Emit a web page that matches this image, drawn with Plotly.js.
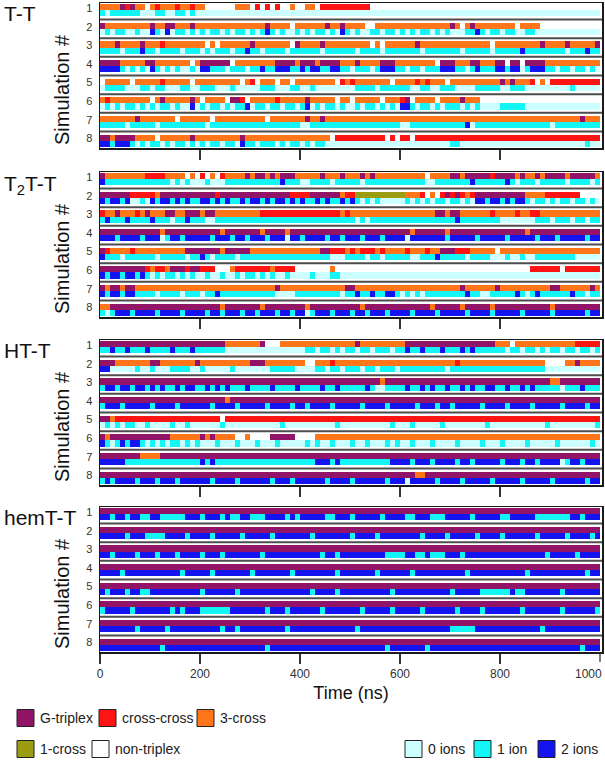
<!DOCTYPE html>
<html><head><meta charset="utf-8">
<script src="https://cdn.plot.ly/plotly-3.0.1.min.js"></script>
<style>html,body{margin:0;padding:0;background:#fff}#chart{width:605px;height:761px}</style>
</head><body><div id="chart"></div>
<script>
// ---------------- DATA ----------------
const panelNames = ["T-T", "T<sub>2</sub>T-T", "HT-T", "hemT-T"];
const simLabels = ["1","2","3","4","5","6","7","8"];
const timeTicks = [0, 200, 400, 600, 800, 1000];
const binWidthNs = 10;
// conformation codes: P=G-triplex R=cross-cross O=3-cross Y=1-cross W=non-triplex
const confLabels = ["G-triplex", "cross-cross", "3-cross", "1-cross", "non-triplex"];
const confCodes = ["P", "R", "O", "Y", "W"];
// ion codes: 0 / 1 / 2 ions
const ionLabels = ["0 ions", "1 ion", "2 ions"];
const ionCodes = ["0", "1", "2"];

const TT_conf = [
"OOOOPRPOOW OROOOROORO OWWWWWWOOO WRWRWRWWOW WOOWRRRRRR RRRRWWWWWW WWWWWWWWWW WWWWWWWWWW WWWWWWWWWW WWWWWWWWWW",
"POOOOOOOOO POOPPOOOPO OOOOOOOOOO OOOPOOOOWO OOOOOPOOPO OOOWWOOOOO OOOOOOOOOO POWOPOOOOO OOOWOOOOWW WWWWWWWWWW",
"OOOPOOOOPO OOROOOOOOO OWOWOOOOOO POOOOOOOWP OOOOPOOOOO OOOOWOWOOO OOOPOOOOOO OOOOOOOOWO OOOOOOOOPO OOOPOOOOOP",
"PPPPOOOOOP POOOOOOOWO PPPPPPWOOO OOOOOPPPPO PPPOPPPPOO OPOOOOPPPO OOOOOOOWPP POOOPPOOOP PWPPWPPPPO OOOOOOOOOO",
"WOOOOOWOOO OOROOOOOWO OOOOOOOOWO RWOOOWOOWO OOOOOOOWRO ROOOOOOOWO OOOROROOOW OOOOOOOOOO POPOOORWOW RRRRRRRRRR",
"OROOOOOOOO WOPOOOOOPO WOOOOWPPRW OOOOOROOOO OPOOOOOWOO WOOOOOWOOO RPWOOOOWOO OOPOOOWWWW WWWWWWWWWW WWWWWWWWWW",
"OOOOOOOPOO OOOOOWOOOO OOWOOOOOOO OOOWOOOOOO OPOOPOOOOO OOOOOOOOOO OOOOOOOOOO OOOOOOOOOO OOOOOOOOOO OOOOOOPOOO",
"PPOPPPPOOO OWOOOOOOPO OOOOOOOOPO OOOOOOOOOO OOOOOOWRRR RRRRRRRWRW RRWRRRRRRR RRRRRRRRRR RRRRRRRRRR RRRRRRRRRR"
];
const TT_ions = [
"1011111100 0110011010 0000000000 0000000000 0000000000 0000000000 0000000000 0000000000 0000000000 0000000000",
"0101100100 2102011010 1011010110 1012101001 0101101021 0100110110 1010110101 0001121011 0110011000 0000000000",
"1111011121 1011110111 0101110112 1101111011 1111011111 1011110111 1111011111 1101111101 1111211111 1110111211",
"2222101010 2101010010 2211101110 1121122211 2122112211 0111012221 1011011122 2110121112 2122012221 1011011010",
"0111100011 0110001100 1110001000 0011100011 0010000000 0111101111 1100110011 1000011111 0011100000 0000100000",
"0101011010 1011010020 1011010112 0110110110 1201011010 0101101010 2210110101 1101010000 1111100000 0000000000",
"1111101111 1011111111 1011111111 1111111111 0011111111 1111111111 0011111111 1112011111 1111111111 0111111111",
"2212221010 1101011010 1011011021 1011101011 0101100000 0000000000 0000000000 1100000000 0000000000 0000000100"
];

const T2TT_conf = [
"POOOOOOOOR RRROOOOWOW RWOWROOOOP OPPOPOPPPO OOOOPOOOPO OOPOPOOOOO OOOOOWOOOO PPOPPPPPRP PPPOPOOPOP PPPOPPPPPO",
"PPPPPPRRRR ROPPPPPPPP PPPRPPPPPP PPPPPPPPRR RRPPPPPPOR RYYYYYYYYY YOOORWOWRP RPRORPPPPP PPPPPOOOOR RRRRRRWWWW",
"ROOPOOOROP OOOPPOOPPP OPPOOOOOOO OORRRRRRRR RRRRRRRROR OOOOOOOOOO OOOOOOOPPO PPOOOOOORO OOOROORROO OOOOOOOOOO",
"PPPPPPPPPP PPOPPPPPPP PPPPOPPPPP PPOPPPPOPP PPPPPPPPPP PPPPPPPPPP PPOPPPPPPO PPPPPPPPPP PPPPPOPPPP PPPPPPPPPP",
"PROOOOROOO OOOOOOOPPP PPPPOPPPPP OOOOOOOOOO OOOOPPRRRO RORRRORO OO OROOOROOPP PRRROOOOOW OOOOOOOOOO OOOOOOOOOO",
"PPPPPPPPPR ORROPPPRPP RRRWWWORRR RRRRORRRRW WWWWWWOWWW WWWWWWWWWW WWWWWWWWWW WWWWWWWWWW WWWWWWRRRR RRWRRRRRRR",
"POPPOPPOOO OOOOOOOOOO OOOOOOOOOO OOOOOPOOOO OOOOOOOOOP POOOOOOOOO OOOOOOOOOO OOPOOOOOOP OOOOOOOOOO PPOOOOOOPO",
"OOPPPPPPPP PPPPPPPPPP PPPPOPPPPP PPOPPPPPPP POPPPPPPPP PPOPPPPPPP PPPPPPOPPP PPOPPPPPOP PPPPPPPPPP OPPPPPPPPP"
];
const T2TT_ions = [
"2111111111 1111010100 0100011111 1111112111 0011110111 1101111111 1111100111 1111211111 1210111011 1110111101",
"2122120010 2122121211 2212121121 2212122121 2112121121 2101010000 0101010110 1101022122 1212210110 1011011010",
"1211121111 2111011211 1001111111 1111111111 1111111111 1010111111 1111111111 1211111111 0000000111 0111011011",
"2221222212 2201221222 2212221221 2221222022 1222212212 2212221222 2022222221 2222212222 2122222122 2122222122",
"2111011111 1011111011 2101111011 1111111111 1111110001 1110110111 1100111211 1110111100 0100100111 1111100000",
"2122122121 0101101010 0100100101 1010100100 0010001100 0000000000 0000000000 0000000000 0000000000 0000000000",
"2122122111 1011110111 0112111111 1111100001 1111111101 1211211221 0101011111 1112110011 1112101211 1111211011",
"1012221222 2122221222 2122122212 2122212212 2012221222 1221222122 2212222122 2221222212 2222122222 1222222122"
];

const HTT_conf = [
"PPPPPPPPPP PPPPPPPPPP PPPPPOOOOO OOPWWWOOOO OOOOOOOOOO OPOOOOOOOO OPPPPPPPPP PPPPPPPPPO OOWOOOOOOO OOOOORRRRR",
"PPPOOOOOOO PPOOOOOOOP OOOOOOOOOO PPPOOOOOOO OWWOOOROOO OOOOOOOOOO OOOOOOOOOO OROOOOOOOO OOOOOOOOOW WWWOOPOOOO",
"PPPPPPPPPP PPPPPPPPPP PPPPPPPPPP PPPPPPPPPP PPPPPPPPPP PPPPPPOPPP PPPPPPPPPP PPPPPPPPPP PPPPPPPPPP OOPPPPPPPP",
"PPPPPPPPPP PPPPPPPPPP PPPPPOPPPP PPPPPPPPPP PPPPPPPPPP PPPPPPPPPP PPPPPPPPPP PPPPPPPPPP PPPPPPPPPP PPPPPPPPPP",
"PPORRRRRRR RRRRRRRRRR RRRRWRRRRR RRRRRRRRRR RRRRRRRRRR RRRRRRRRRR RRRRRRRRRR RRRRRRRRRR RRRRRRRRRR RRRRRRRRRR",
"POPPPPPPPP PPPPOOOOOO POPOOOOWWO WWWWPPPPPW WWWOOOOOOO OOOOOOOOOO OOOOOOOOOO OOOOOOOOOO OOOOOOOOOO OOOOOOOOOO",
"PPPPPPPPOO OOPPPPPPPP PPPPPPPPPP PPPPPPPPPP PPPPPPPPPP PPPPPPPPPP PPPPPPPPPP PPPPPPPPPP PPPPPPPPPP PPPPPPPPPP",
"PPPPPPPPPP PPPPPPPPPP PPPPPPPPPP PPPPPPPPPP PPPPPPPPPP PPPPPPPPPP PPPOOPPPPP PPPPPPPPPP PPPPPPPPPP PPPPPPPPPP"
];
const HTT_ions = [
"1121121112 1111211121 1111100000 0000000000 0110110101 1011011101 1211211121 1121211111 1011011010 1101101101",
"2200000100 1000111100 1000001000 0000111110 0001101101 1101101110 1111111110 1111111111 1111111110 0000000000",
"1221221221 2121121221 1212121112 1111211112 1111211211 1112100111 1211212112 1121211221 1211212111 1101112111",
"1222122222 1222212222 2212222122 2221222212 2122221222 2212222122 2221222122 1222221222 2122221222 2212222122",
"0101011001 0000100100 0000100000 0000001000 0000000100 0000000010 0010000010 0000000100 0000000001 0000000001",
"2101212210 1010110101 0001000100 0100010000 0101001000 1001000101 0010001000 0100001000 1000010000 0100000010",
"2222211111 1111111111 2121111111 1111111111 1112221211 1111111122 2212221222 2122122222 1222122122 2201221222",
"1212222122 2122212222 2212222122 2222122212 2222212222 1222222122 2022222122 2212222212 2222122222 1222222122"
];

const hemTT_conf = [
"PPPPPPPPPP PPPPPPPPPP PPPPPPPPPP PPPPPPPPPP PPPPPPPPPP PPPPPPPPPP PPPPPPPPPP PPPPPPPPPP PPPPPPPPPP PPPPPPPPPP",
"PPPPPPPPPP PPPPPPPPPP PPPPPPPPPP PPPPPPPPPP PPPPPPPPPP PPPPPPPPPP PPPPPPPPPP PPPPPPPPPP PPPPPPPPPP PPPPPPPPPP",
"PPPPPPPPPP PPPPPPPPPP PPPPPPPPPP PPPPPPPPPP PPPPPPPPPP PPPPPPPPPP PPPPPPPPPP PPPPPPPPPP PPPPPPPPPP PPPPPPPPPP",
"PPPPPPPPPP PPPPPPPPPP PPPPPPPPPP PPPPPPPPPP PPPPPPPPPP PPPPPPPPPP PPPPPPPPPP PPPPPPPPPP PPPPPPPPPP PPPPPPPPPP",
"PPPPPPPPPP PPPPPPPPPP PPPPPPPPPP PPPPPPPPPP PPPPPPPPPP PPPPPPPPPP PPPPPPPPPP PPPPPPPPPP PPPPPPPPPP PPPPPPPPPP",
"PPPPPPPPPP PPPPPPPPPP PPPPPPPPPP PPPPPPPPPP PPPPPPPPPP PPPPPPPPPP PPPPPPPPPP PPPPPPPPPP PPPPPPPPPP PPPPPPPPPP",
"PPPPPPPPPP PPPPPPPPPP PPPPPPPPPP PPPPPPPPPP PPPPPPPPPP PPPPPPPPPP PPPPPPPPPP PPPPPPPPPP PPPPPPPPPP PPPPPPPPPP",
"PPPPPPPPPP PPPPPPPPPP PPPPPPPPPP PPPPPPPPPP PPPPPPPPPP PPPPPPPPPP PPPPPPPPPP PPPPPPPPPP PPPPPPPPPP PPPPPPPPPP"
];
const hemTT_ions = [
"2212212211 2211111222 1222121122 1112222121 2222211222 1222221222 2112221112 2222122222 1122222111 1111221222",
"2222212221 1112222122 2212222212 2222122222 2212222222 1222212222 2222122221 2222212222 1222222122 2221222212",
"2212222122 2122212222 1222122222 2212222222 2222122122 2222222111 1221121112 2212222222 2222222221 2222212222",
"2222122222 2222221222 2212222222 1222222212 2222222122 2222212222 2212222222 2221222222 2222212222 2222222122",
"2122212211 2222222222 1222222122 2222222222 2212222122 2222222212 2222222222 1222221111 1121122222 2212222222",
"1222221222 2222121222 1111112222 2221222122 2222122222 2212222212 2222122222 2122221222 2222122222 2212222221",
"2222222122 2221222222 2222122122 2222222122 2222222222 2122222222 2222222222 1111122222 2222222212 2222222222",
"2222222222 2212222222 2222222222 2221222222 2222222222 2222222122 2222212222 2222222222 2222222222 2222221222"
];

// ---------------- STYLE / LAYOUT ----------------
const confColors = ["#921466", "#FF1414", "#FF7519", "#9C9C12", "#FFFFFF"];
const ionColors = ["#CCFFFF", "#14F5F5", "#1414F0"];
const FONT = "Liberation Sans, Arial, Helvetica, sans-serif";
const W = 605, H = 761;
const plotLeft = 100, plotRight = 602;
const panelTops = [3, 172, 340, 507];
const panelH = 145, stripH = 6.2, edgePad = 1;
const nSim = simLabels.length;
const pitch = (panelH - 2 * edgePad - 2 * stripH) / (nSim - 1);
const xRange = [0, 1004];
const tickLen = 10;

const panels = [
  {name: panelNames[0], conf: TT_conf, ions: TT_ions},
  {name: panelNames[1], conf: T2TT_conf, ions: T2TT_ions},
  {name: panelNames[2], conf: HTT_conf, ions: HTT_ions},
  {name: panelNames[3], conf: hemTT_conf, ions: hemTT_ions}
];

function cells(str, codes, offset) {
  return str.replace(/\s+/g, "").split("").map(c => {
    const i = codes.indexOf(c);
    return i < 0 ? null : i + offset;
  });
}

const allColors = confColors.concat(ionColors);
const nCol = allColors.length;
const colorscale = [];
allColors.forEach((c, i) => { colorscale.push([i / nCol, c]); colorscale.push([(i + 1) / nCol, c]); });

const simTop = k => edgePad + k * pitch;
const yEdges = [];
for (let k = 0; k < nSim; k++) { const t = simTop(k); yEdges.push(t, t + stripH, t + 2 * stripH); }

const traces = [];
const shapes = [];
const annotations = [];
const layout = {
  width: W, height: H,
  margin: {l: 0, r: 0, t: 0, b: 0},
  paper_bgcolor: "#fff", plot_bgcolor: "#fff",
  showlegend: false,
  font: {family: FONT, color: "#111"}
};

const lastTick = timeTicks[timeTicks.length - 1];
panels.forEach((p, i) => {
  const sfx = i === 0 ? "" : String(i + 1);
  const z = [];
  let nBins = 0;
  for (let k = 0; k < nSim; k++) {
    const cr = cells(p.conf[k], confCodes, 0);
    const ir = cells(p.ions[k], ionCodes, confCodes.length);
    nBins = Math.max(nBins, cr.length, ir.length);
    z.push(cr, ir);
    if (k < nSim - 1) z.push([]);
  }
  const zz = z.map(r => { const a = r.slice(); while (a.length < nBins) a.push(null); return a; });
  const xEdges = [];
  for (let b = 0; b <= nBins; b++) xEdges.push(b * binWidthNs);
  traces.push({
    type: "heatmap", x: xEdges, y: yEdges, z: zz,
    zmin: -0.5, zmax: nCol - 0.5, colorscale: colorscale, showscale: false,
    hoverinfo: "skip", xaxis: "x" + sfx, yaxis: "y" + sfx
  });
  const top = panelTops[i];
  const last = i === panels.length - 1;
  const shown = last ? timeTicks.slice(0, -1) : timeTicks.slice(1, -1);
  const xa = {
    domain: [plotLeft / W, plotRight / W], anchor: "y" + sfx, range: xRange,
    showline: true, mirror: true, linecolor: "#1a1a1a", linewidth: 1.5,
    ticks: "outside", ticklen: tickLen, tickwidth: 1.3, tickcolor: "#333",
    tickmode: "array", tickvals: shown, ticktext: shown.map(String),
    showticklabels: last,
    tickfont: {size: 12, color: "#333", family: FONT},
    showgrid: false, zeroline: false, fixedrange: true
  };
  if (last) xa.title = {text: "Time (ns)", font: {size: 18, color: "#111", family: FONT}, standoff: 6};
  layout["xaxis" + sfx] = xa;
  layout["yaxis" + sfx] = {
    domain: [1 - (top + panelH) / H, 1 - top / H], anchor: "x" + sfx,
    range: [panelH, 0], showline: true, mirror: true, linecolor: "#1a1a1a", linewidth: 1.5,
    ticks: "", tickmode: "array",
    tickvals: simLabels.map((s, k) => simTop(k) + 4), ticktext: simLabels,
    tickfont: {size: 11, color: "#333", family: FONT}, ticklabelstandoff: 4,
    showgrid: false, zeroline: false, fixedrange: true
  };
  for (let k = 0; k < nSim - 1; k++) {
    const yy = (simTop(k) + 2 * stripH + simTop(k + 1)) / 2;
    shapes.push({type: "line", xref: "paper", yref: "y" + sfx, x0: plotLeft / W, x1: plotRight / W,
      y0: yy, y1: yy, line: {color: "#4d4d4d", width: 2}, layer: "above"});
  }
  const labelTops = [0, 170, 337, 504];
  annotations.push({text: p.name, xref: "paper", yref: "paper", x: 2 / W, y: 1 - labelTops[i] / H,
    xanchor: "left", yanchor: "top", showarrow: false, font: {size: 21, color: "#111", family: FONT}});
  annotations.push({text: "Simulation #", xref: "paper", yref: "paper", x: 62 / W, y: 1 - (top + 87) / H,
    xanchor: "center", yanchor: "middle", textangle: -90, showarrow: false,
    font: {size: 20, color: "#111", family: FONT}});
  if (last) {
    // last time tick: tick mark + right-aligned label so it is not cut by the page edge
    const yb = 1 - (top + panelH) / H;
    shapes.push({type: "line", xref: "x" + sfx, yref: "paper", x0: lastTick, x1: lastTick,
      y0: yb, y1: yb - tickLen / H, line: {color: "#333", width: 1.3}});
    annotations.push({text: String(lastTick), xref: "paper", yref: "paper", x: 604 / W,
      y: 1 - (top + panelH + 13) / H, xanchor: "right", yanchor: "top", showarrow: false,
      font: {size: 12, color: "#333", family: FONT}});
  }
});

// legend (drawn with shapes + text)
const legendItems = [
  {label: confLabels[0], color: confColors[0], sx: 17, tx: 38, y: 718},
  {label: confLabels[1], color: confColors[1], sx: 99, tx: 120, y: 718},
  {label: confLabels[2], color: confColors[2], sx: 197, tx: 218, y: 718},
  {label: confLabels[3], color: confColors[3], sx: 17, tx: 38, y: 749},
  {label: confLabels[4], color: confColors[4], sx: 92, tx: 113, y: 749},
  {label: ionLabels[0], color: ionColors[0], sx: 405, tx: 426, y: 749},
  {label: ionLabels[1], color: ionColors[1], sx: 474, tx: 495, y: 749},
  {label: ionLabels[2], color: ionColors[2], sx: 538, tx: 559, y: 749}
];
const sq = 17;
legendItems.forEach(it => {
  shapes.push({type: "rect", xref: "paper", yref: "paper",
    x0: it.sx / W, x1: (it.sx + sq) / W, y0: 1 - (it.y + sq / 2) / H, y1: 1 - (it.y - sq / 2) / H,
    fillcolor: it.color, line: {color: "#222", width: 1}});
  annotations.push({text: it.label, xref: "paper", yref: "paper", x: it.tx / W, y: 1 - it.y / H,
    xanchor: "left", yanchor: "middle", showarrow: false, font: {size: 14, color: "#222", family: FONT}});
});

layout.shapes = shapes;
layout.annotations = annotations;

Plotly.newPlot("chart", traces, layout, {displayModeBar: false, staticPlot: true});
</script>
</body></html>
